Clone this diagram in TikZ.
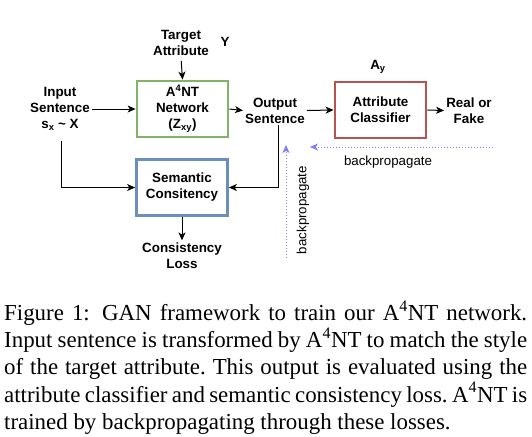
\documentclass[tikz,border=0pt]{standalone}
\usepackage{fontspec}
\setmainfont{Liberation Serif}
\newfontfamily\diagfont{Liberation Sans}
\usetikzlibrary{arrows.meta}
\definecolor{gboxc}{HTML}{82B366}
\definecolor{rboxc}{HTML}{B85450}
\definecolor{bboxc}{HTML}{6C8EBF}
\definecolor{bpc}{HTML}{7F7FFF}
\tikzset{
  lbl/.style={font=\diagfont\bfseries\fontsize{13.4}{16}\selectfont, align=center, inner sep=2pt},
  plain/.style={font=\diagfont\fontsize{13.3}{16}\selectfont, inner sep=1pt},
  dbox/.style={lbl, draw, line width=2.8pt, fill=white, minimum width=91pt, minimum height=56pt},
  arr/.style={-{Stealth[length=8pt,width=7pt,inset=2.2pt]}, line width=1pt, black},
  bparr/.style={-{Stealth[length=8pt,width=7pt,inset=2.2pt]}, line width=1pt, bpc, dotted},
  captxt/.style={font=\fontsize{22.9}{27}\selectfont, anchor=base west, inner sep=0pt},
}
\begin{document}
\begin{tikzpicture}[x=1pt,y=-1pt]
\useasboundingbox (0,0) rectangle (532,436);
% nodes
\node[lbl] (tgt) at (181,43) {Target\\Attribute};
\node[lbl] (yy) at (225,42) {Y};
\node[dbox, draw=gboxc] (net) at (182.5,109) {A\textsuperscript{4}NT\\Network\\(Z\textsubscript{xy})};
\node[lbl] (in) at (60,109) {Input\\Sentence\\s\textsubscript{x} \textasciitilde{} X};
\node[lbl] (out) at (275,110.5) {Output\\Sentence};
\node[dbox, draw=rboxc] (cls) at (380.5,110) {Attribute\\Classifier};
\node[lbl] (ay) at (378,67) {A\textsubscript{y}};
\node[lbl] (rf) at (469,110.5) {Real or\\Fake};
\node[dbox, draw=bboxc] (sem) at (182,187.5) {Semantic\\Consitency};
\node[lbl] (loss) at (182,255.5) {Consistency\\Loss};
\node[plain] (bph) at (388,162) {backpropagate};
\node[plain, rotate=90] (bpv) at (303,210) {backpropagate};
\coordinate (bph1) at (493,147);
\coordinate (bph2) at (310,147);
\coordinate (bpv1) at (286,258);
\coordinate (bpv2) at (286,145);
% connectors
\draw[arr, shorten <=3pt] (tgt.south) -- (net.north);
\draw[arr] (in.east) -- (net.west);
\draw[arr] (net.east) -- (out.west);
\draw[arr] (out.east) -- (cls.west);
\draw[arr] (cls.east) -- (rf.west);
\draw[arr] (sem.south) -- (loss.north);
\draw[arr, shorten <=8pt] ([xshift=1pt]in.south) |- (sem.west);
\draw[arr] ([xshift=3pt]out.south) |- (sem.east);
\draw[bparr] (bph1) -- (bph2);
\draw[bparr] (bpv1) -- (bpv2);
% caption
\node[captxt] (c1) at (4,320.5) {\makebox[523pt][s]{Figure 1: GAN framework to train our A\textsuperscript{4}NT network.}};
\node[captxt] (c2) at (4,347.5) {\makebox[523pt][s]{Input sentence is transformed by A\textsuperscript{4}NT to match the style}};
\node[captxt] (c3) at (4,374.5) {\frenchspacing\makebox[523pt][s]{of the target attribute. This output is evaluated using the}};
\node[captxt] (c4) at (4,402) {\frenchspacing\makebox[523pt][s]{attribute classifier and semantic consistency loss. A\textsuperscript{4}NT is}};
\node[captxt] (c5) at (4,429.5) {trained by backpropagating through these losses.};
\end{tikzpicture}
\end{document}
